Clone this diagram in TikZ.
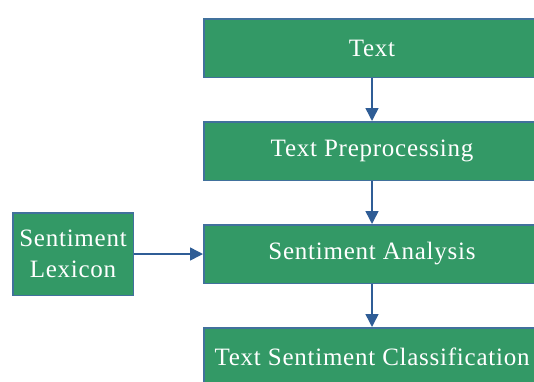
\documentclass[tikz,border=0pt]{standalone}
\usepackage{fontspec}
\setmainfont[LetterSpace=3]{Liberation Serif}
\usetikzlibrary{positioning}
\usetikzlibrary{arrows.meta}
\usepackage{xcolor}
\definecolor{boxgreen}{RGB}{51,153,102}
\definecolor{boxblue}{RGB}{65,113,156}
\definecolor{arrowblue}{RGB}{47,93,150}

\begin{document}
\begin{tikzpicture}[x=1pt,y=-1pt,node distance=43pt,
  stage/.style={draw=boxblue,fill=boxgreen,line width=1.5pt,text=white,
    minimum width=336.5pt,minimum height=58.5pt,inner sep=0pt,
    font=\fontsize{25}{31}\selectfont},
  flow/.style={-{Triangle[length=13pt,width=13pt]},arrowblue,line width=1.5pt}]
\useasboundingbox (0,0) rectangle (534,381);
\node[stage] (txt) at (372,48) {Text};
\node[stage,below=of txt] (pre) {Text Preprocessing};
\node[stage,below=of pre] (sa) {Sentiment Analysis};
\node[stage,below=of sa] (cls) {Text Sentiment Classification};
\node[stage,minimum width=120.5pt,minimum height=82.5pt,align=center,left=69pt of sa] (lex) {Sentiment\\Lexicon};
\draw[flow] (txt)--(pre);
\draw[flow] (pre)--(sa);
\draw[flow] (sa)--(cls);
\draw[flow] (lex)--(sa);
\end{tikzpicture}
\end{document}
